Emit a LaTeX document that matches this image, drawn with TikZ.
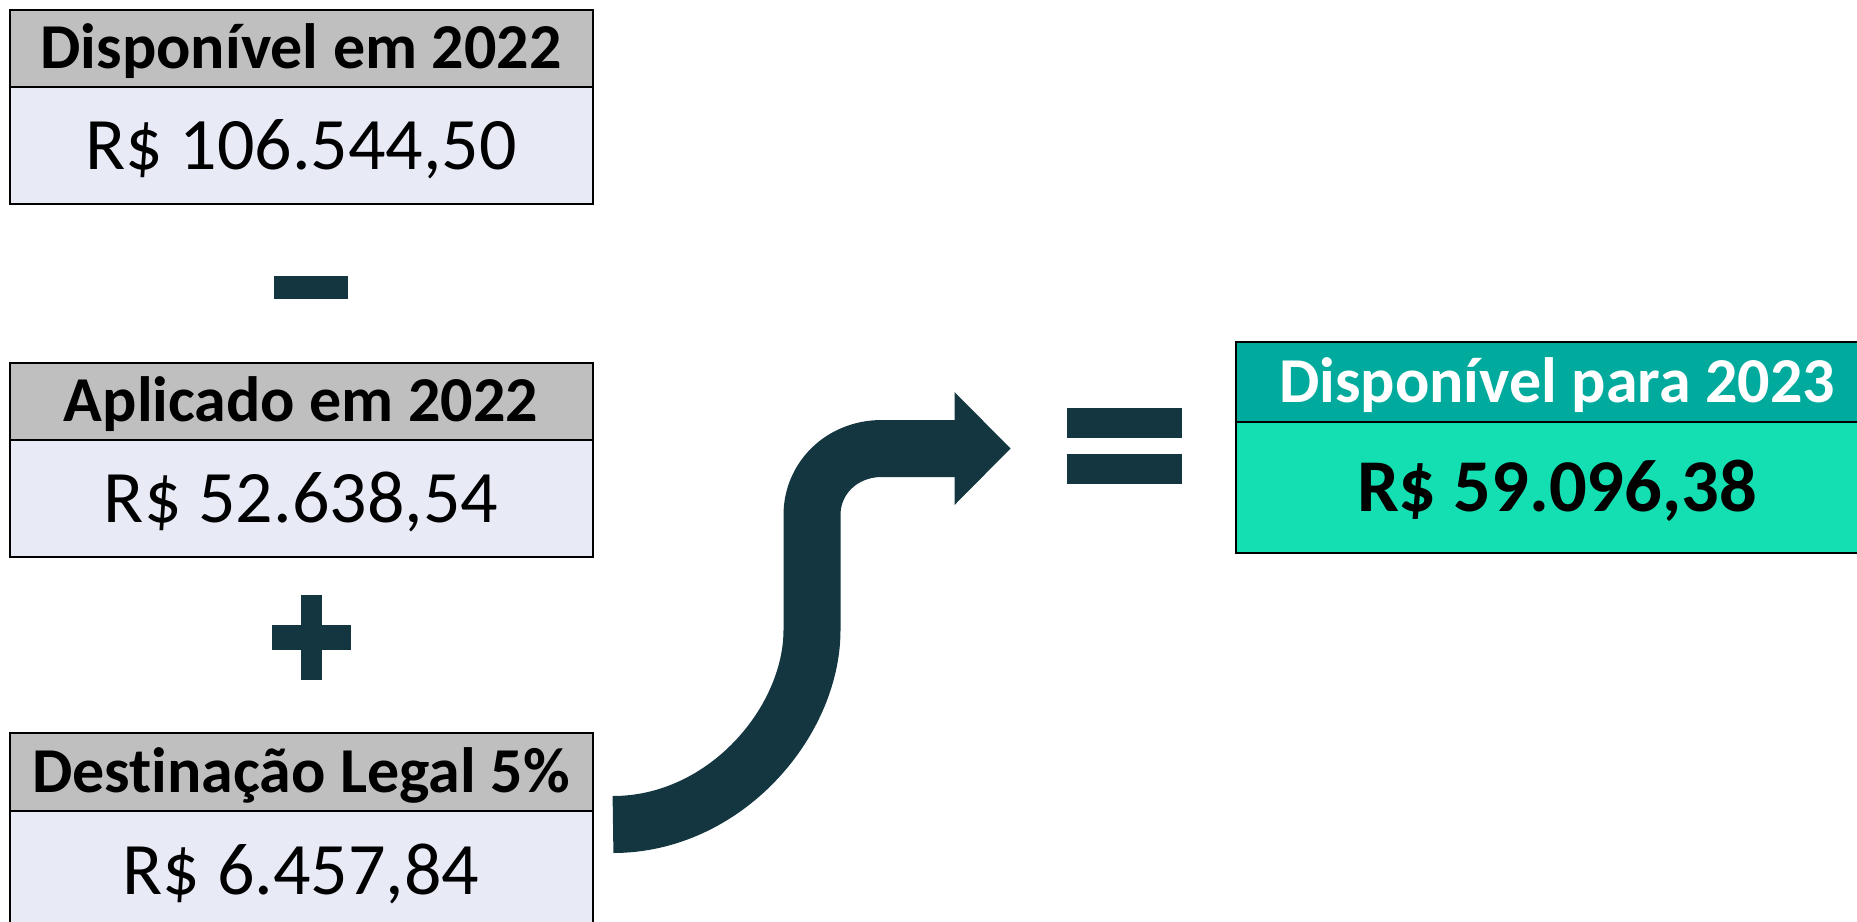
\documentclass[tikz,border=0pt]{standalone}
\usepackage{fontspec}
\setmainfont[Ligatures=NoCommon]{Carlito}
\definecolor{headgray}{RGB}{191,191,191}
\definecolor{bodylav}{RGB}{232,234,246}
\definecolor{resteal}{RGB}{0,171,157}
\definecolor{resgreen}{RGB}{20,223,178}
\definecolor{signclr}{RGB}{19,54,65}
\tikzset{
	headbox/.style={
		draw=black, line width=2pt, fill=headgray, inner sep=0pt,
		minimum width=583pt, minimum height=77pt,
		font=\fontsize{64}{70}\selectfont\bfseries,
		text height=41pt, text depth=0pt},
	valbox/.style={
		draw=black, line width=2pt, fill=bodylav, inner sep=0pt,
		minimum width=583pt, minimum height=116pt,
		font=\fontsize{74}{80}\selectfont,
		text height=48pt, text depth=0pt},
	sign/.style={fill=signclr}
}
\begin{document}
\begin{tikzpicture}[x=1pt,y=1pt,yscale=-1,xscale=1]
\useasboundingbox (0,0) rectangle (1857,921);
\clip (0,0) rectangle (1857,921);

% left column
\node [valbox, minimum height=117.5pt] (dispval) at (301,145.5) {R\$ 106.544,50};
\node [headbox] (disp) at (301,48) {Disponível em 2022};

\node [valbox, minimum height=117pt] (aplval) at (301,498) {R\$ 52.638,54};
\node [headbox] (apl) at (301,401) {Aplicado em 2022};

\node [valbox, minimum height=118pt] (destval) at (301,870) {R\$ 6.457,84};
\node [headbox, minimum height=78pt] (dest) at (301,772) {Destinação Legal 5\%};

% result
\node [valbox, fill=resgreen, minimum width=642pt, minimum height=132pt, font=\fontsize{74.5}{80}\selectfont\bfseries] (resval) at (1557,487) {R\$ 59.096,38};
\node [headbox, fill=resteal, text=white, minimum width=642pt, minimum height=80pt] (res) at (1557,382) {Disponível para 2023};

% signs
\fill [sign] (274,276) rectangle (348,299);
\fill [sign] (272,625) rectangle (351,650);
\fill [sign] (301,595) rectangle (322,680);
\fill [sign] (1067,408) rectangle (1182,438);
\fill [sign] (1067,454) rectangle (1182,484);

% bent arrow
\coordinate (arrS) at (613,824.5);
\coordinate (arrE) at (955,448.5);
\draw [signclr, line width=57pt, line cap=butt] (arrS) .. controls (725,824.5) and (812,722) .. (812,630) -- (812,515) .. controls (812,478.5) and (841.5,448.5) .. (882,448.5) -- (arrE);
\fill [sign] (954.5,392) -- (1010.5,448.5) -- (954.5,505) -- cycle;

\end{tikzpicture}
\end{document}
